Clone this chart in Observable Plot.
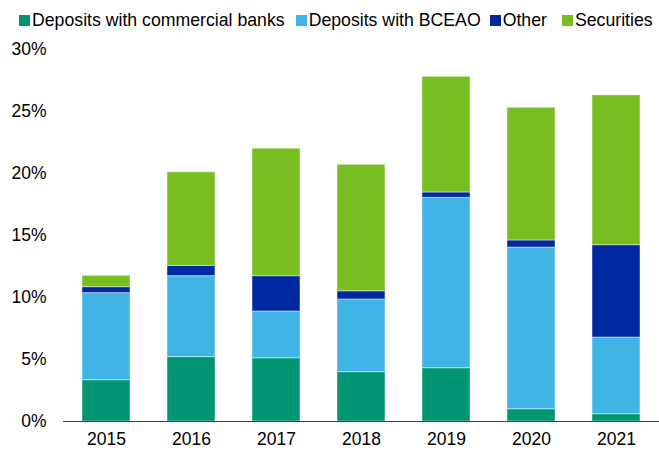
<!DOCTYPE html>
<html>
<head>
<meta charset="utf-8">
<script src="https://cdn.jsdelivr.net/npm/d3@7"></script>
<script src="https://cdn.jsdelivr.net/npm/@observablehq/plot@0.6"></script>
<style>
  body { margin: 0; background: #fff; font-family: "Liberation Sans", Arial, sans-serif; }
  #legend { height: 32px; display: flex; align-items: center; padding-left: 19px; font-size: 17.7px; color: #000; padding-top: 8px; box-sizing: border-box; white-space: nowrap; }
  .item { display: flex; align-items: center; }
  .sw { width: 11px; height: 11px; margin-right: 2px; flex: none; }
</style>
</head>
<body>
<div id="legend"></div>
<div id="chart"></div>
<script>
const years = ["2015", "2016", "2017", "2018", "2019", "2020", "2021"];
const seriesNames = ["Deposits with commercial banks", "Deposits with BCEAO", "Other", "Securities"];
const colors = ["#009673", "#41B4E6", "#0028A0", "#78BE20"];
const commercial = [3.33, 5.19, 5.10, 3.98, 4.30, 0.99, 0.59];
const bceao      = [7.02, 6.53, 3.77, 5.86, 13.74, 13.04, 6.18];
const other      = [0.48, 0.83, 2.85, 0.66, 0.43, 0.57, 7.45];
const securities = [0.92, 7.55, 10.28, 10.20, 9.33, 10.70, 12.08];
const yTicks = [0, 5, 10, 15, 20, 25, 30];

const seriesValues = [commercial, bceao, other, securities];
const data = [];
years.forEach((y, i) => {
  seriesNames.forEach((s, j) => data.push({year: y, series: s, value: seriesValues[j][i]}));
});

const legend = document.getElementById("legend");
const gaps = [11, 9, 15, 0];
seriesNames.forEach((s, j) => {
  const it = document.createElement("div");
  it.className = "item";
  it.style.marginRight = gaps[j] + "px";
  it.innerHTML = `<div class="sw" style="background:${colors[j]}"></div><span>${s}</span>`;
  legend.appendChild(it);
});

const chart = Plot.plot({
  width: 659,
  height: 419,
  marginTop: 17,
  marginBottom: 30,
  marginLeft: 63,
  marginRight: 0,
  style: { fontFamily: "'Liberation Sans', Arial, sans-serif", fontSize: "17.5px", color: "#000", background: "#fff" },
  x: { domain: years, paddingInner: 0.43, paddingOuter: 0.215, label: null, tickSize: 0, tickPadding: 11 },
  y: { domain: [0, 30], ticks: yTicks, tickFormat: d => d + "%", label: null, tickSize: 0, tickPadding: 17 },
  color: { domain: seriesNames, range: colors },
  marks: [
    Plot.barY(data, { x: "year", y: "value", fill: "series", stroke: "white", strokeOpacity: 0.45, strokeWidth: 1 }),
    Plot.ruleY([0], { stroke: "#404040", strokeWidth: 1 })
  ]
});
document.getElementById("chart").appendChild(chart);
</script>
</body>
</html>
